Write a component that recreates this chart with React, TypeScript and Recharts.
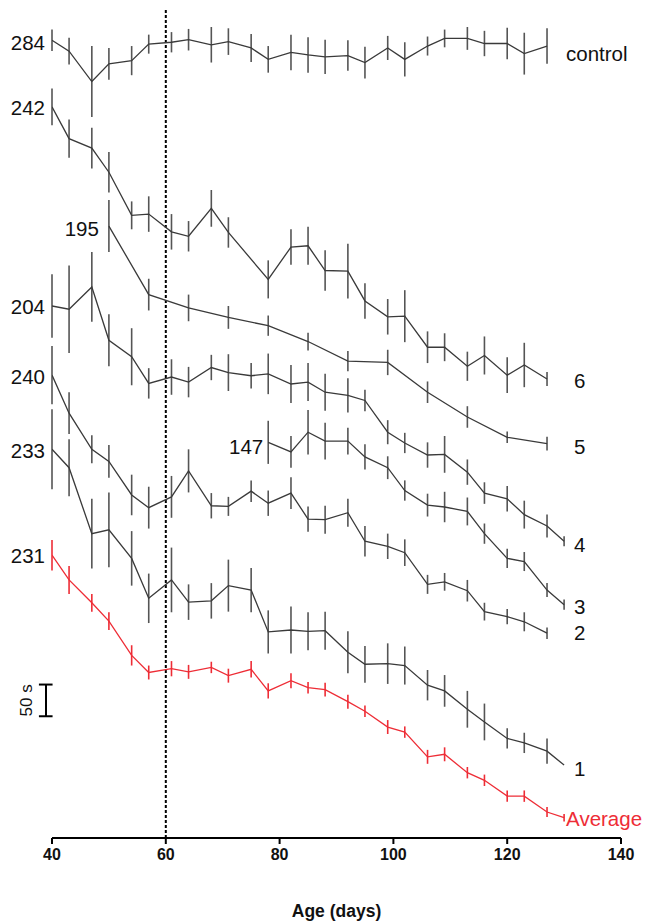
import React from "react";
import { LineChart, Line, XAxis, YAxis, ErrorBar, ReferenceLine, ReferenceDot, LabelList } from "recharts";

// Age (days) at which each group was tested
const daysFull = [40, 43, 47, 50, 54, 57, 61, 64, 68, 71, 75, 78, 82, 85, 88, 92, 95, 99, 102, 106, 109, 113, 116, 120, 123, 127];
const daysFullPlus = [...daysFull, 130];
const daysSix = [40, 43, 47, 50, 54, 57, 61, 64, 68, 71, 78, 82, 85, 88, 92, 95, 99, 102, 106, 109, 113, 116, 120, 123, 127];
const daysFive = [50, 57, 64, 71, 78, 85, 92, 99, 106, 113, 120, 127];
const daysThree = [78, 82, 85, 88, 92, 95, 99, 102, 106, 109, 113, 116, 120, 123, 127, 130];

// change from each group's first value (s) and error (s)
const controlVals = [0, -17, -65, -37, -32, -6, -3, 1, -7, -2, -12, -30, -19, -23, -26, -24, -35, -12, -30, -9, 3, 3, -5, -5, -21, -9];
const controlErr = [17, 21, 56, 25, 23, 15, 16, 17, 28, 21, 22, 21, 28, 28, 27, 24, 25, 19, 27, 15, 14, 18, 20, 25, 33, 28];

const sixVals = [0, -50, -65, -103, -171, -169, -197, -204, -160, -198, -272, -221, -219, -258, -259, -306, -331, -330, -379, -379, -409, -392, -423, -407, -429];
const sixErr = [29, 30, 32, 32, 22, 28, 28, 24, 29, 24, 30, 28, 30, 32, 43, 28, 28, 41, 25, 22, 23, 30, 28, 35, 11];

const fiveVals = [0, -108, -129, -144, -157, -182, -213, -215, -262, -301, -333, -343];
const fiveErr = [41, 25, 21, 18, 16, 14, 16, 20, 17, 17, 9, 11];

const fourVals = [0, -5, 30, -54, -80, -122, -112, -120, -97, -105, -110, -107, -123, -120, -136, -141, -149, -199, -216, -235, -234, -262, -295, -304, -329, -347, -371];
const fourErr = [50, 69, 55, 41, 45, 24, 28, 24, 20, 29, 20, 32, 30, 30, 29, 27, 17, 19, 16, 20, 29, 20, 17, 20, 22, 18, 8];

const threeVals = [0, -15, 16, 2, 2, -23, -40, -76, -99, -102, -109, -144, -183, -188, -233, -256];
const threeErr = [34, 25, 35, 29, 21, 20, 18, 16, 18, 24, 22, 16, 15, 15, 11, 8];

const twoVals = [0, -60, -117, -136, -189, -209, -192, -151, -206, -207, -183, -202, -186, -227, -228, -217, -262, -270, -280, -330, -326, -340, -373, -381, -389, -407];
const twoErr = [46, 33, 22, 26, 32, 33, 33, 34, 20, 15, 17, 20, 25, 20, 22, 22, 24, 20, 21, 15, 14, 17, 14, 12, 15, 9];

const oneVals = [0, -29, -133, -127, -172, -235, -206, -241, -239, -215, -222, -288, -285, -287, -286, -320, -339, -338, -341, -372, -381, -410, -430, -456, -463, -476, -498];
const oneErr = [63, 45, 55, 59, 43, 39, 51, 28, 28, 41, 35, 34, 37, 30, 30, 33, 29, 32, 30, 24, 25, 29, 29, 16, 16, 20, 0];

const avgVals = [0, -39, -75, -104, -158, -185, -179, -184, -177, -190, -180, -214, -198, -209, -212, -231, -246, -271, -279, -318, -314, -343, -355, -380, -380, -405, -414];
const avgErr = [24, 22, 14, 14, 16, 11, 12, 11, 9, 11, 13, 12, 12, 9, 11, 11, 9, 11, 9, 11, 11, 9, 9, 9, 9, 8, 6];

// starting values and right-hand names
const startLabels = ["284", "242", "195", "204", "147", "240", "233", "231"];
const endLabels = ["control", "6", "5", "4", "3", "2", "1", "Average"];

const xTicks = [40, 60, 80, 100, 120, 140];

// vertical stacking offsets (s) used to separate the curves
const stackOffsets = [1258, 1153, 965, 839, 624, 730, 613, 446];

const FONT = "'Liberation Sans', Arial, Helvetica, sans-serif";
const GRAY = "#3a3a3a";
const BAR = "#555555";
const RED = "#ee2d36";

const build = (days: number[], vals: number[], errs: number[], off: number) =>
  days.map((d, i) => ({ day: d, v: vals[i] + off, e: errs[i] }));

const series = [
  { data: build(daysFull, controlVals, controlErr, stackOffsets[0]), color: GRAY, bar: BAR, s: [-7, 2], en: [19, 7] },
  { data: build(daysSix, sixVals, sixErr, stackOffsets[1]), color: GRAY, bar: BAR, s: [-7, 1], en: [27, 2] },
  { data: build(daysFive, fiveVals, fiveErr, stackOffsets[2]), color: GRAY, bar: BAR, s: [-10, 2], en: [27, 3] },
  { data: build(daysFullPlus, fourVals, fourErr, stackOffsets[3]), color: GRAY, bar: BAR, s: [-7, 0], en: [10, 3] },
  { data: build(daysThree, threeVals, threeErr, stackOffsets[4]), color: GRAY, bar: BAR, s: [-5, 4], en: [10, 2] },
  { data: build(daysFull, twoVals, twoErr, stackOffsets[5]), color: GRAY, bar: BAR, s: [-7, 1], en: [27, -1] },
  { data: build(daysFullPlus, oneVals, oneErr, stackOffsets[6]), color: GRAY, bar: BAR, s: [-7, 1], en: [10, 3] },
  { data: build(daysFullPlus, avgVals, avgErr, stackOffsets[7]), color: RED, bar: RED, s: [-7, 0], en: [2, 1] },
];

const makeLabel = (idx: number, last: number, cfg: any) => (p: any) => {
  const { x, y, index } = p;
  if (index === 0) {
    return (
      <text x={x + cfg.s[0]} y={y + cfg.s[1]} textAnchor="end" dominantBaseline="central" fontSize={20.5} fontFamily={FONT} fill="#111">
        {startLabels[idx]}
      </text>
    );
  }
  if (index === last) {
    return (
      <text x={x + cfg.en[0]} y={y + cfg.en[1]} textAnchor="start" dominantBaseline="central" fontSize={20.5} fontFamily={FONT} fill={idx === 7 ? RED : "#111"}>
        {endLabels[idx]}
      </text>
    );
  }
  return null;
};

const ScaleText = (p: any) => (
  <text x={p.cx} y={p.cy} textAnchor="middle" dominantBaseline="central" fontSize={17} fontFamily={FONT} fill="#111" transform={`rotate(-90 ${p.cx} ${p.cy})`}>
    50 s
  </text>
);

export default function App() {
  return (
    <div style={{ position: "absolute", left: 0, top: 0, width: 647, height: 921, background: "#fff" }}>
      <LineChart width={647} height={921} margin={{ top: 8, right: 26, bottom: 0, left: 52 }}>
        <XAxis
          type="number"
          dataKey="day"
          domain={[40, 140]}
          ticks={xTicks}
          allowDataOverflow
          height={83}
          tickSize={6}
          tickMargin={5}
          axisLine={{ stroke: "#000", strokeWidth: 2 }}
          tickLine={{ stroke: "#000", strokeWidth: 2 }}
          tick={{ fontSize: 16, fontWeight: "bold", fill: "#111", fontFamily: FONT }}
          label={{ value: "Age (days)", position: "insideBottom", offset: 4, fontSize: 17.5, fontWeight: "bold", fill: "#111", fontFamily: FONT }}
        />
        <YAxis hide type="number" domain={[0, 1309]} allowDataOverflow />
        <ReferenceLine x={60} stroke="#000" strokeWidth={2} strokeDasharray="3 2" />
        <ReferenceLine segment={[{ x: 38.95, y: 192 }, { x: 38.95, y: 242 }]} stroke="#000" strokeWidth={2} ifOverflow="visible" />
        <ReferenceLine segment={[{ x: 37.7, y: 192 }, { x: 40.1, y: 192 }]} stroke="#000" strokeWidth={2} ifOverflow="visible" />
        <ReferenceLine segment={[{ x: 37.7, y: 242 }, { x: 40.1, y: 242 }]} stroke="#000" strokeWidth={2} ifOverflow="visible" />
        <ReferenceDot x={35.55} y={217} r={0} ifOverflow="visible" shape={ScaleText} />
        {series.map((s, i) => (
          <Line
            key={i}
            data={s.data}
            dataKey="v"
            type="linear"
            stroke={s.color}
            strokeWidth={1.3}
            dot={false}
            activeDot={false}
            isAnimationActive={false}
          >
            <ErrorBar dataKey="e" width={0} stroke={s.bar} strokeWidth={1.6} direction="y" isAnimationActive={false} />
            <LabelList dataKey="v" content={makeLabel(i, s.data.length - 1, s)} />
          </Line>
        ))}
      </LineChart>
    </div>
  );
}
